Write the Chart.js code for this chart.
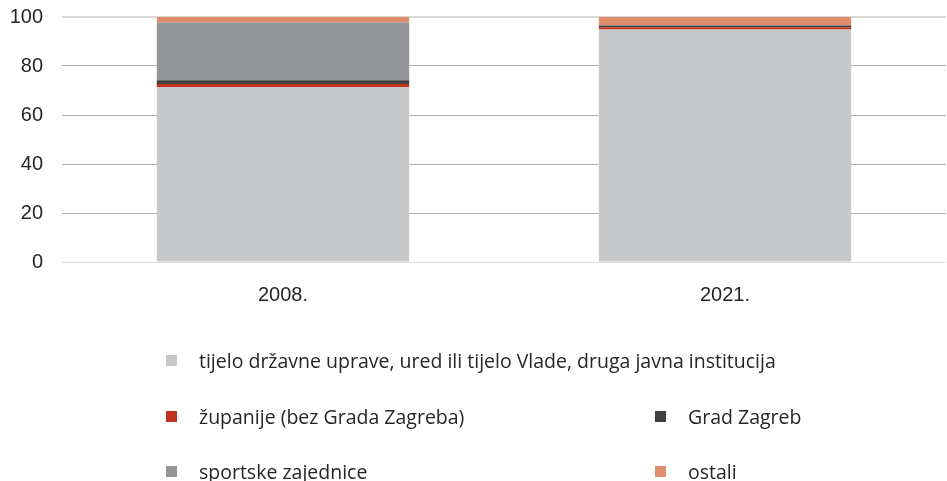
<!DOCTYPE html>
<html>
<head>
<meta charset="utf-8">
<script src="https://cdn.jsdelivr.net/npm/chart.js@4"></script>
<style>
  html, body { margin: 0; padding: 0; background: #fff; }
  #wrap { position: relative; width: 947px; height: 481px; overflow: hidden; }
  #chart { position: absolute; left: 0; top: -14px; }
  #legend { position: absolute; left: 166px; top: 0; font-family: "Open Sans", sans-serif; font-size: 19.5px; color: #262626; }
  .item { position: absolute; white-space: nowrap; display: flex; align-items: center; }
  .item span.box { width: 11px; height: 11px; display: inline-block; margin-right: 22px; }
</style>
</head>
<body>
<div id="wrap">
  <canvas id="chart" width="947" height="495"></canvas>
  <div id="legend"></div>
</div>
<script>
// ---------------- 数据 ----------------
const years = ['2008.', '2021.'];
const seriesNames = [
  'tijelo državne uprave, ured ili tijelo Vlade, druga javna institucija',
  'županije (bez Grada Zagreba)',
  'Grad Zagreb',
  'sportske zajednice',
  'ostali'
];
const drzavna = [71.4, 94.9];
const zupanije = [1.3, 0.9];
const gradZagreb = [1.5, 0.7];
const sportske = [23.6, 0.1];
const ostali = [2.2, 3.4];
const yTicks = [0, 20, 40, 60, 80, 100];

const colors = ['#c7c8ca', '#c0311e', '#404040', '#939598', '#e08e6e'];
const values = [drzavna, zupanije, gradZagreb, sportske, ostali];

const datasets = seriesNames.map((name, i) => ({
  label: name,
  data: values[i],
  backgroundColor: colors[i],
  borderWidth: 0,
  categoryPercentage: 1,
  barPercentage: 0.571
}));

const axisFont = { family: '"Liberation Sans", Arial, sans-serif', size: 20 };

const ctx = document.getElementById('chart').getContext('2d');
const chart = new Chart(ctx, {
  type: 'bar',
  data: { labels: years, datasets },
  options: {
    responsive: false,
    animation: false,
    layout: { padding: { top: 0, left: 10, right: 1, bottom: 169 } },
    plugins: { legend: { display: false }, tooltip: { enabled: false } },
    scales: {
      x: {
        stacked: true,
        grid: { display: false },
        border: { display: false },
        ticks: { color: '#262626', font: axisFont, padding: 13 },
        afterFit: s => { s.height = 50; }
      },
      y: {
        stacked: true,
        min: 0,
        max: 100,
        afterBuildTicks: axis => { axis.ticks = yTicks.map(v => ({ value: v })); },
        afterFit: s => { s.width = 52; },
        border: { display: false },
        grid: {
          drawTicks: false,
          color: c => (c.tick && (c.tick.value === 100 || c.tick.value === 0)) ? '#d9d9d9' : '#b0b0b0',
          lineWidth: c => (c.tick && c.tick.value === 100) ? 2 : 1
        },
        ticks: { color: '#262626', font: axisFont, padding: 19 }
      }
    }
  }
});

// ---------------- 图例 ----------------
const legendPos = [
  { left: 0, top: 347 },
  { left: 0, top: 403 },
  { left: 489, top: 403 },
  { left: 0, top: 458 },
  { left: 489, top: 458 }
];
const legendEl = document.getElementById('legend');
seriesNames.forEach((name, i) => {
  const div = document.createElement('div');
  div.className = 'item';
  div.style.left = legendPos[i].left + 'px';
  div.style.top = legendPos[i].top + 'px';
  div.innerHTML = `<span class="box" style="background:${colors[i]}"></span>${name}`;
  legendEl.appendChild(div);
});
</script>
</body>
</html>
